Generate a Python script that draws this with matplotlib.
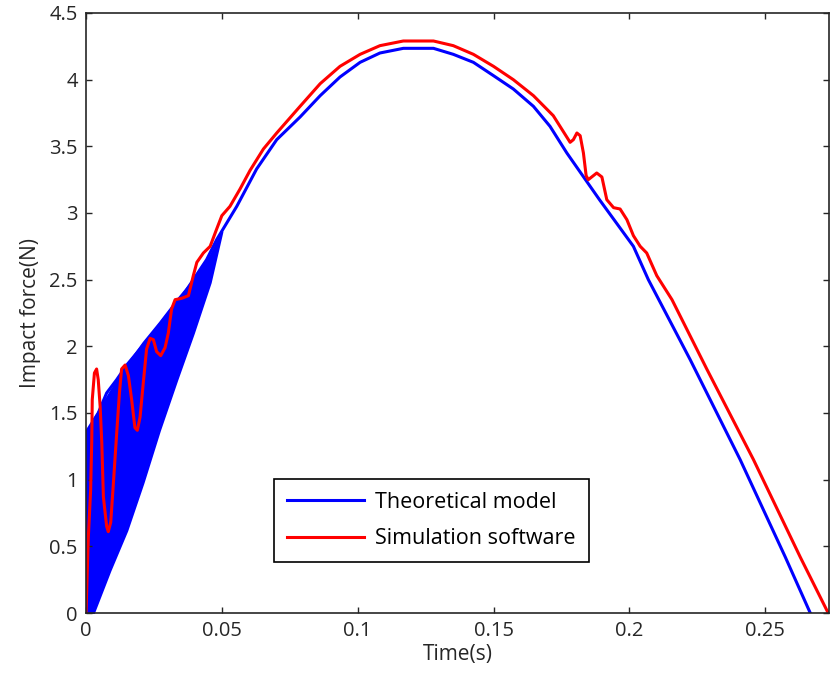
import numpy as np
import matplotlib
matplotlib.use('Agg')
import matplotlib.pyplot as plt

plt.rcParams['font.family'] = ['Open Sans', 'DejaVu Sans']

# theoretical model: main (upper) curve
t_theory = [0.0, 0.0005, 0.0045, 0.0076, 0.0113, 0.015, 0.0199, 0.0248, 0.0297,
            0.0346, 0.0395, 0.0444, 0.0481, 0.0555, 0.0628, 0.0702, 0.0788,
            0.0862, 0.0935, 0.1009, 0.1082, 0.1168, 0.1279, 0.1352, 0.1426,
            0.15, 0.1573, 0.1647, 0.1708, 0.177, 0.189, 0.2015, 0.207,
            0.2224, 0.2408, 0.2574, 0.2666]
f_theory = [0.0, 1.37, 1.50, 1.65, 1.75, 1.86, 1.98, 2.10, 2.23,
            2.35, 2.50, 2.65, 2.80, 3.05, 3.33, 3.55, 3.72,
            3.88, 4.02, 4.13, 4.20, 4.235, 4.235, 4.19, 4.13,
            4.03, 3.93, 3.80, 3.65, 3.45, 3.10, 2.75, 2.50,
            1.90, 1.15, 0.42, 0.0]

# oscillation band of the theoretical model (lower / upper envelopes)
t_band = [0.0, 0.0008, 0.0027, 0.0088, 0.015, 0.021, 0.027, 0.0334, 0.0395, 0.0457, 0.05]
f_band_lo = [0.0, 0.0, 0.0, 0.32, 0.62, 0.98, 1.37, 1.75, 2.10, 2.48, 2.86]
f_band_hi = [0.0, 1.37, 1.45, 1.66, 1.86, 2.03, 2.18, 2.35, 2.50, 2.68, 2.86]

# simulation software
t_sim = [0.0, 0.00086, 0.0017, 0.0021, 0.0023, 0.0031, 0.0039, 0.0045, 0.0052,
         0.0058, 0.0064, 0.0076, 0.0082, 0.0091, 0.0101, 0.0113, 0.0123,
         0.0131, 0.0144, 0.0156, 0.0168, 0.018, 0.0189, 0.0199, 0.0211,
         0.0223, 0.0236, 0.0248, 0.026, 0.0275, 0.0291, 0.0303, 0.0315,
         0.0328, 0.0352, 0.0377, 0.0395, 0.0408, 0.0432, 0.0457, 0.0481,
         0.05, 0.053, 0.0567, 0.0604, 0.0653, 0.0702, 0.0788, 0.0862,
         0.0935, 0.1009, 0.1082, 0.1168, 0.1279, 0.1352, 0.1426, 0.15,
         0.1573, 0.1647, 0.172, 0.1782, 0.1794, 0.1807, 0.1819, 0.1831,
         0.1841, 0.1849, 0.188, 0.1899, 0.1917, 0.1942, 0.1966, 0.1991,
         0.2015, 0.204, 0.2064, 0.2101, 0.2157, 0.2285, 0.2457, 0.2629, 0.2732]
f_sim = [0.0, 0.57, 0.92, 1.28, 1.60, 1.80, 1.83, 1.75, 1.55,
         1.28, 0.87, 0.65, 0.61, 0.68, 0.98, 1.35, 1.65,
         1.83, 1.86, 1.78, 1.60, 1.39, 1.37, 1.47, 1.73,
         1.98, 2.06, 2.05, 1.96, 1.93, 1.99, 2.10, 2.28,
         2.35, 2.36, 2.38, 2.53, 2.63, 2.70, 2.75, 2.88,
         2.98, 3.05, 3.18, 3.32, 3.48, 3.60, 3.80, 3.97,
         4.10, 4.19, 4.255, 4.29, 4.29, 4.255, 4.19, 4.10,
         4.00, 3.88, 3.73, 3.53, 3.55, 3.60, 3.58, 3.45,
         3.28, 3.25, 3.30, 3.27, 3.10, 3.04, 3.03, 2.95,
         2.83, 2.75, 2.70, 2.53, 2.35, 1.83, 1.15, 0.42, 0.0]

x_ticks = [0, 0.05, 0.1, 0.15, 0.2, 0.25]
x_labels = ['0', '0.05', '0.1', '0.15', '0.2', '0.25']
y_ticks = [0, 0.5, 1, 1.5, 2, 2.5, 3, 3.5, 4, 4.5]
y_labels = ['0', '0.5', '1', '1.5', '2', '2.5', '3', '3.5', '4', '4.5']

fig = plt.figure(figsize=(8.31, 6.84), dpi=100)
ax = fig.add_axes([0.1035, 0.1038, 0.8941, 0.8772])

ax.fill_between(t_band, f_band_lo, f_band_hi, color='#0000ff', lw=1.5)
ax.plot(t_theory, f_theory, color='#0000ff', lw=2.2, label='Theoretical model')
ax.plot(t_sim, f_sim, color='#ff0000', lw=2.2, label='Simulation software')

ax.set_xlim(0, 0.2735)
ax.set_ylim(0, 4.5)
ax.set_xticks(x_ticks)
ax.set_xticklabels(x_labels)
ax.set_yticks(y_ticks)
ax.set_yticklabels(y_labels)
ax.tick_params(direction='in', length=4, width=1, top=True, right=True,
               labelsize=14.5, colors='#262626', pad=6)
for s in ax.spines.values():
    s.set_color('#262626')
    s.set_linewidth(1.2)

ax.set_xlabel('Time(s)', fontsize=15, color='#262626', labelpad=2)
ax.set_ylabel('Impact force(N)', fontsize=15, color='#262626', labelpad=6)

leg = ax.legend(loc='lower left', bbox_to_anchor=(274 / 831, (684 - 562) / 684),
                bbox_transform=fig.transFigure, fontsize=15.5, fancybox=False,
                framealpha=1, edgecolor='black', handlelength=3.6,
                handletextpad=0.5, labelspacing=0.7, borderpad=0.6,
                borderaxespad=0)
leg.get_frame().set_linewidth(1.2)

fig.savefig('out.png', dpi=100)
